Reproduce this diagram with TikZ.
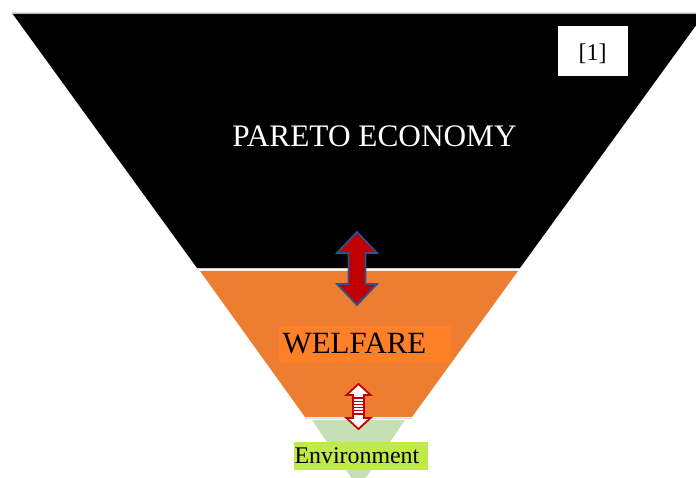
\documentclass[tikz,border=0pt]{standalone}
\usepackage{fontspec}
\setmainfont{Liberation Serif}
\definecolor{orangeA}{RGB}{237,125,49}
\definecolor{welfarebox}{RGB}{255,128,38}
\definecolor{greenA}{RGB}{197,224,180}
\definecolor{limebox}{RGB}{192,234,72}
\definecolor{arrowred}{RGB}{192,0,0}
\definecolor{arrowblue}{RGB}{47,82,143}
\tikzset{
  lbl/.style={inner sep=0pt, outer sep=0pt},
  bigarrow/.style={fill=arrowred, draw=arrowblue, line width=1.8pt, line join=miter},
  smallarrow/.style={fill=white, draw=arrowred, line width=1.8pt, line join=miter},
  stripe/.style={draw=arrowred, line width=1.3pt}
}
\begin{document}
\begin{tikzpicture}[x=1pt,y=-1pt]
\useasboundingbox (0,0) rectangle (696,478);
\clip (0,0) rectangle (696,478);
% bands
\fill[black] (12,13) -- (705,13) -- (520,268) -- (197,268) -- cycle;
\draw[gray!55, line width=0.8pt] (12,13) -- (696,13);
\draw[gray!40, line width=0.7pt] (197,268.6) -- (520,268.6);
\fill[orangeA] (200,271) -- (518,271) -- (412,417) -- (305,417) -- cycle;
\draw[gray!30, line width=0.6pt] (305,418.5) -- (412,418.5);
\fill[greenA] (312,420) -- (405,420) -- (358.5,488.5) -- cycle;
% reference box
\fill[white] (558,26) rectangle (628,76);
\node[lbl, anchor=base, font=\fontsize{24}{28}\selectfont] (ref) at (592.5,61) {[1]};
% labels
\node[lbl, anchor=base, text=white, font=\fontsize{31.3}{36}\selectfont] (pareto) at (374.5,147) {PARETO ECONOMY};
\fill[welfarebox] (279,326) rectangle (451,363);
\node[lbl, anchor=base, font=\fontsize{30.9}{36}\selectfont] (welfare) at (354.5,353) {WELFARE};
\fill[limebox] (294,442) rectangle (428,470);
\node[lbl, anchor=base west, font=\fontsize{23.9}{28}\selectfont] (env) at (294.5,463) {Environment};
% big double arrow
\filldraw[bigarrow] (357,232) -- (377,253) -- (365.5,253) -- (365.5,284) -- (377,284) -- (357,305)
  -- (337,284) -- (348.5,284) -- (348.5,253) -- (337,253) -- cycle;
% small striped double arrow
\filldraw[smallarrow] (358.5,384) -- (370.5,395) -- (364,395) -- (364,418) -- (370.5,418) -- (358.5,429)
  -- (346.5,418) -- (353,418) -- (353,395) -- (346.5,395) -- cycle;
\foreach \yy in {398,401.2,404.4,407.6,410.8,414} {
  \draw[stripe] (353,\yy) -- (364,\yy);
}
\end{tikzpicture}
\end{document}
